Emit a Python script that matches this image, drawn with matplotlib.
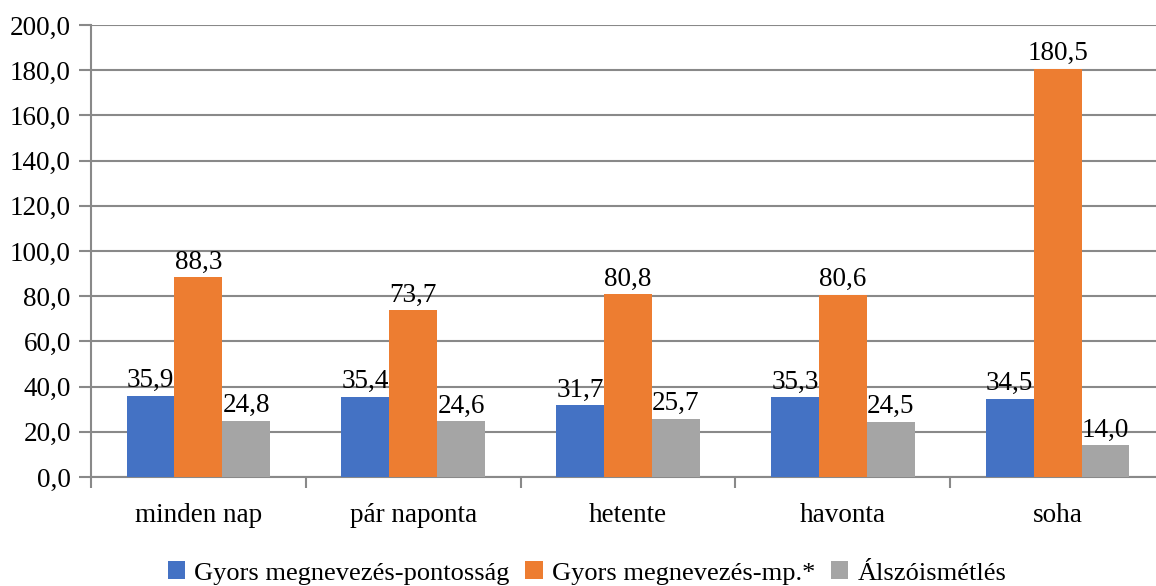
import numpy as np
import matplotlib
matplotlib.use("Agg")
import matplotlib.pyplot as plt

plt.rcParams['font.family'] = ['Liberation Serif', 'DejaVu Serif']

categories = ['minden nap', 'pár naponta', 'hetente', 'havonta', 'soha']
series_names = ['Gyors megnevezés-pontosság', 'Gyors megnevezés-mp.*', 'Álszóismétlés']
pontossag = [35.9, 35.4, 31.7, 35.3, 34.5]
mp = [88.3, 73.7, 80.8, 80.6, 180.5]
alszo = [24.8, 24.6, 25.7, 24.5, 14.0]
colors = ['#4472C4', '#ED7D31', '#A5A5A5']
yticks = np.arange(0, 201, 20)

fs = 19.5

fig = plt.figure(figsize=(11.56, 5.86), dpi=100)
# plot area slightly wider than the picture, as in the source (cropped on the right)
ax = fig.add_axes([91 / 1156, 1 - 477 / 586, (1165 - 91) / 1156, (477 - 25) / 586])

x = np.arange(len(categories))
w = 0.223
grid_c = '#898989'
for i, (vals, name) in enumerate(zip([pontossag, mp, alszo], series_names)):
    bars = ax.bar(x + (i - 1) * w, vals, w, color=colors[i], label=name, zorder=3)
    for b, v in zip(bars, vals):
        ax.annotate(f'{v:.1f}'.replace('.', ','), (b.get_x() + b.get_width() / 2, v),
                    xytext=(0, 2), textcoords='offset points',
                    ha='center', va='bottom', fontsize=fs, zorder=4)

ax.set_xlim(-0.5, len(categories) - 0.5)
ax.set_ylim(0, 200)
ax.set_yticks(yticks)
ax.set_yticklabels([f'{t:.1f}'.replace('.', ',') for t in yticks], fontsize=fs)
ax.yaxis.grid(True, color=grid_c, linewidth=1.5, zorder=0)
ax.set_axisbelow(True)

ax.set_xticks(x)
ax.set_xticklabels(categories, fontsize=fs)
ax.tick_params(axis='x', length=0, pad=19)
ax.set_xticks(np.arange(-0.5, len(categories), 1), minor=True)
ax.tick_params(axis='x', which='minor', length=8, width=1.5, color=grid_c)
ax.tick_params(axis='y', length=8.5, width=1.5, color=grid_c, pad=6)

for s in ['top', 'right']:
    ax.spines[s].set_visible(False)
for s in ['left', 'bottom']:
    ax.spines[s].set_color(grid_c)
    ax.spines[s].set_linewidth(1.5)

ax.legend(loc='center', bbox_to_anchor=(587 / 1156, 1 - 573 / 586), bbox_transform=fig.transFigure,
          ncol=3, frameon=False, fontsize=19, handlelength=0.65, handleheight=0.65,
          handletextpad=0.35, columnspacing=0.6, borderpad=0.2)

fig.savefig('out.png', dpi=100)
